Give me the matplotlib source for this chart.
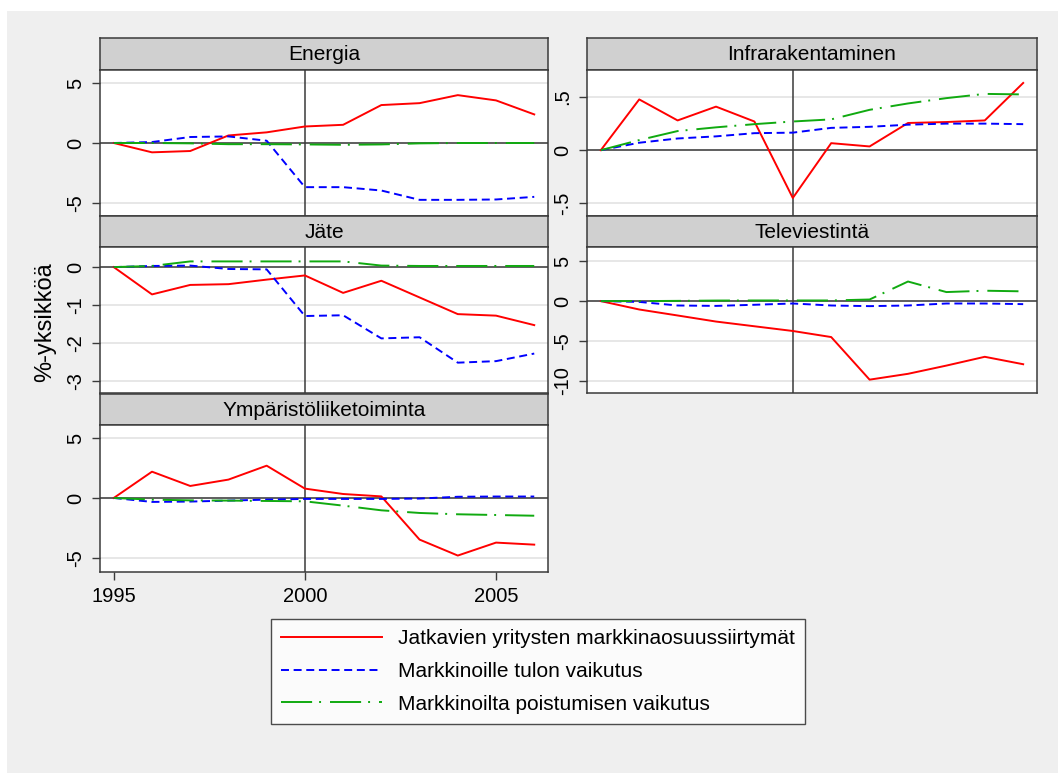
import matplotlib
matplotlib.use("Agg")
import matplotlib.pyplot as plt
from matplotlib.patches import Rectangle

plt.rcParams['font.family'] = ['Liberation Sans', 'DejaVu Sans']

# data (%-units)
years = list(range(1995, 2007))

energia_jatk = [0, -0.78, -0.67, 0.63, 0.89, 1.38, 1.52, 3.17, 3.33, 4.0, 3.56, 2.39]
energia_tulo = [0, 0.08, 0.5, 0.55, 0.19, -3.69, -3.69, -3.97, -4.75, -4.75, -4.72, -4.5]
energia_poist = [0, 0, -0.03, -0.1, -0.1, -0.12, -0.15, -0.12, -0.03, 0, 0, 0]

infra_jatk = [0, 0.478, 0.28, 0.41, 0.27, -0.45, 0.066, 0.035, 0.256, 0.265, 0.28, 0.633]
infra_tulo = [0, 0.07, 0.11, 0.13, 0.16, 0.165, 0.21, 0.22, 0.24, 0.25, 0.25, 0.245]
infra_poist = [0, 0.095, 0.18, 0.215, 0.245, 0.27, 0.29, 0.38, 0.44, 0.49, 0.53, 0.525]

jate_jatk = [0, -0.72, -0.47, -0.45, -0.33, -0.22, -0.68, -0.36, -0.8, -1.24, -1.28, -1.53]
jate_tulo = [0, 0.03, 0.04, -0.05, -0.06, -1.29, -1.27, -1.88, -1.85, -2.52, -2.48, -2.28]
jate_poist = [0, 0.03, 0.15, 0.15, 0.15, 0.15, 0.15, 0.04, 0.03, 0.03, 0.03, 0.03]

tele_jatk = [0, -1.05, -1.8, -2.56, -3.15, -3.74, -4.5, -9.83, -9.1, -8.07, -6.97, -7.9]
tele_tulo = [0, -0.1, -0.55, -0.6, -0.46, -0.3, -0.55, -0.63, -0.55, -0.3, -0.3, -0.38]
tele_poist = [0, 0, 0.03, 0.07, 0.08, 0.08, 0.08, 0.2, 2.45, 1.13, 1.3, 1.22]

ymp_jatk = [0, 2.19, 1.0, 1.53, 2.69, 0.78, 0.33, 0.13, -3.47, -4.8, -3.72, -3.89]
ymp_tulo = [0, -0.33, -0.3, -0.22, -0.14, -0.08, -0.08, -0.08, -0.05, 0.1, 0.12, 0.12]
ymp_poist = [0, -0.14, -0.2, -0.22, -0.25, -0.28, -0.64, -1.03, -1.25, -1.36, -1.42, -1.48]

series_labels = ["Jatkavien yritysten markkinaosuussiirtymät",
                 "Markkinoille tulon vaikutus",
                 "Markkinoilta poistumisen vaikutus"]

panels = [
    ("Energia", (energia_jatk, energia_tulo, energia_poist), [-5, 0, 5], ["-5", "0", "5"]),
    ("Infrarakentaminen", (infra_jatk, infra_tulo, infra_poist), [-0.5, 0, 0.5], ["-.5", "0", ".5"]),
    ("Jäte", (jate_jatk, jate_tulo, jate_poist), [-3, -2, -1, 0], ["-3", "-2", "-1", "0"]),
    ("Televiestintä", (tele_jatk, tele_tulo, tele_poist), [-10, -5, 0, 5], ["-10", "-5", "0", "5"]),
    ("Ympäristöliiketoiminta", (ymp_jatk, ymp_tulo, ymp_poist), [-5, 0, 5], ["-5", "0", "5"]),
]

W, H = 1058, 773
BG = "#efefef"
STRIP = "#d0d0d0"
EDGE = "#3a3a3a"
GRID = "#e3e3e3"
LW = 1.4

# pixel boxes (x0, x1) per column, (strip_top, plot_top, plot_bottom) per row
cols = [(100, 548), (587, 1037)]
rows = [(38, 70, 216), (216, 247, 393), (394, 425, 572)]
ylims = [(-6.1, 6.1), (-0.62, 0.755), (-3.32, 0.53), (-11.5, 6.77), (-6.17, 6.08)]

styles = [
    dict(color="#ff0000", linestyle="-"),
    dict(color="#0000ff", dashes=(4.1, 2.4)),
    dict(color="#10aa10", dashes=(16, 3.6, 1.0, 4.6)),
]

fig = plt.figure(figsize=(W / 100, H / 100), dpi=100)
fig.patch.set_facecolor("white")
fig.add_artist(Rectangle((7 / W, 0), 1 - 7 / W, 1 - 11 / H, transform=fig.transFigure,
                         facecolor=BG, edgecolor="none", zorder=0))


def px_axes(x0, y0, x1, y1):
    return fig.add_axes([x0 / W, 1 - y1 / H, (x1 - x0) / W, (y1 - y0) / H])


handles = []
for i, (name, data, ticks, ticklabels) in enumerate(panels):
    c, r = i % 2, i // 2
    x0, x1 = cols[c]
    s_top, p_top, p_bot = rows[r]

    strip = px_axes(x0, s_top, x1, p_top)
    strip.set_facecolor(STRIP)
    strip.set_xticks([])
    strip.set_yticks([])
    for sp in strip.spines.values():
        sp.set_color(EDGE)
        sp.set_linewidth(1.1)
    strip.text(0.5, 0.47, name, ha="center", va="center", fontsize=15, transform=strip.transAxes)

    ax = px_axes(x0, p_top, x1, p_bot)
    ax.set_facecolor("white")
    ax.set_xlim(1994.64, 2006.36)
    ax.set_ylim(*ylims[i])
    for t in ticks:
        ax.axhline(t, color=GRID, lw=1.2, zorder=0)
    ax.axhline(0, color=EDGE, lw=1.1, zorder=1)
    ax.axvline(2000, color=EDGE, lw=1.1, zorder=1)

    for vals, st, lab in zip(data, styles, series_labels):
        ln, = ax.plot(years, vals, lw=LW, label=lab, zorder=2, **st)
        if i == 0:
            handles.append(ln)

    ax.set_yticks(ticks)
    ax.set_yticklabels(ticklabels)
    ax.tick_params(axis="y", labelrotation=90, labelsize=14.5, length=5.5, width=1.0,
                   color=EDGE, pad=5)
    for lbl in ax.get_yticklabels():
        lbl.set_va("center")
    if i == 4:
        ax.set_xticks([1995, 2000, 2005])
        ax.tick_params(axis="x", labelsize=14.5, length=5.5, width=1.0, color=EDGE, pad=5)
    else:
        ax.set_xticks([])
    for sp in ax.spines.values():
        sp.set_color(EDGE)
        sp.set_linewidth(1.1)

fig.text(45 / W, 1 - 322 / H, "%-yksikköä", rotation=90, ha="center", va="center", fontsize=17)

leg = fig.legend(handles, series_labels, loc="upper left", bbox_to_anchor=(271 / W, 1 - 619 / H),
                 fontsize=15, frameon=True, fancybox=False, borderpad=0.5, labelspacing=0.65,
                 handlelength=4.85, handletextpad=0.75, borderaxespad=0)
leg.get_frame().set_edgecolor("#202020")
leg.get_frame().set_linewidth(1.0)
leg.get_frame().set_facecolor("white")

fig.savefig("out.png", dpi=100, facecolor=fig.get_facecolor())
